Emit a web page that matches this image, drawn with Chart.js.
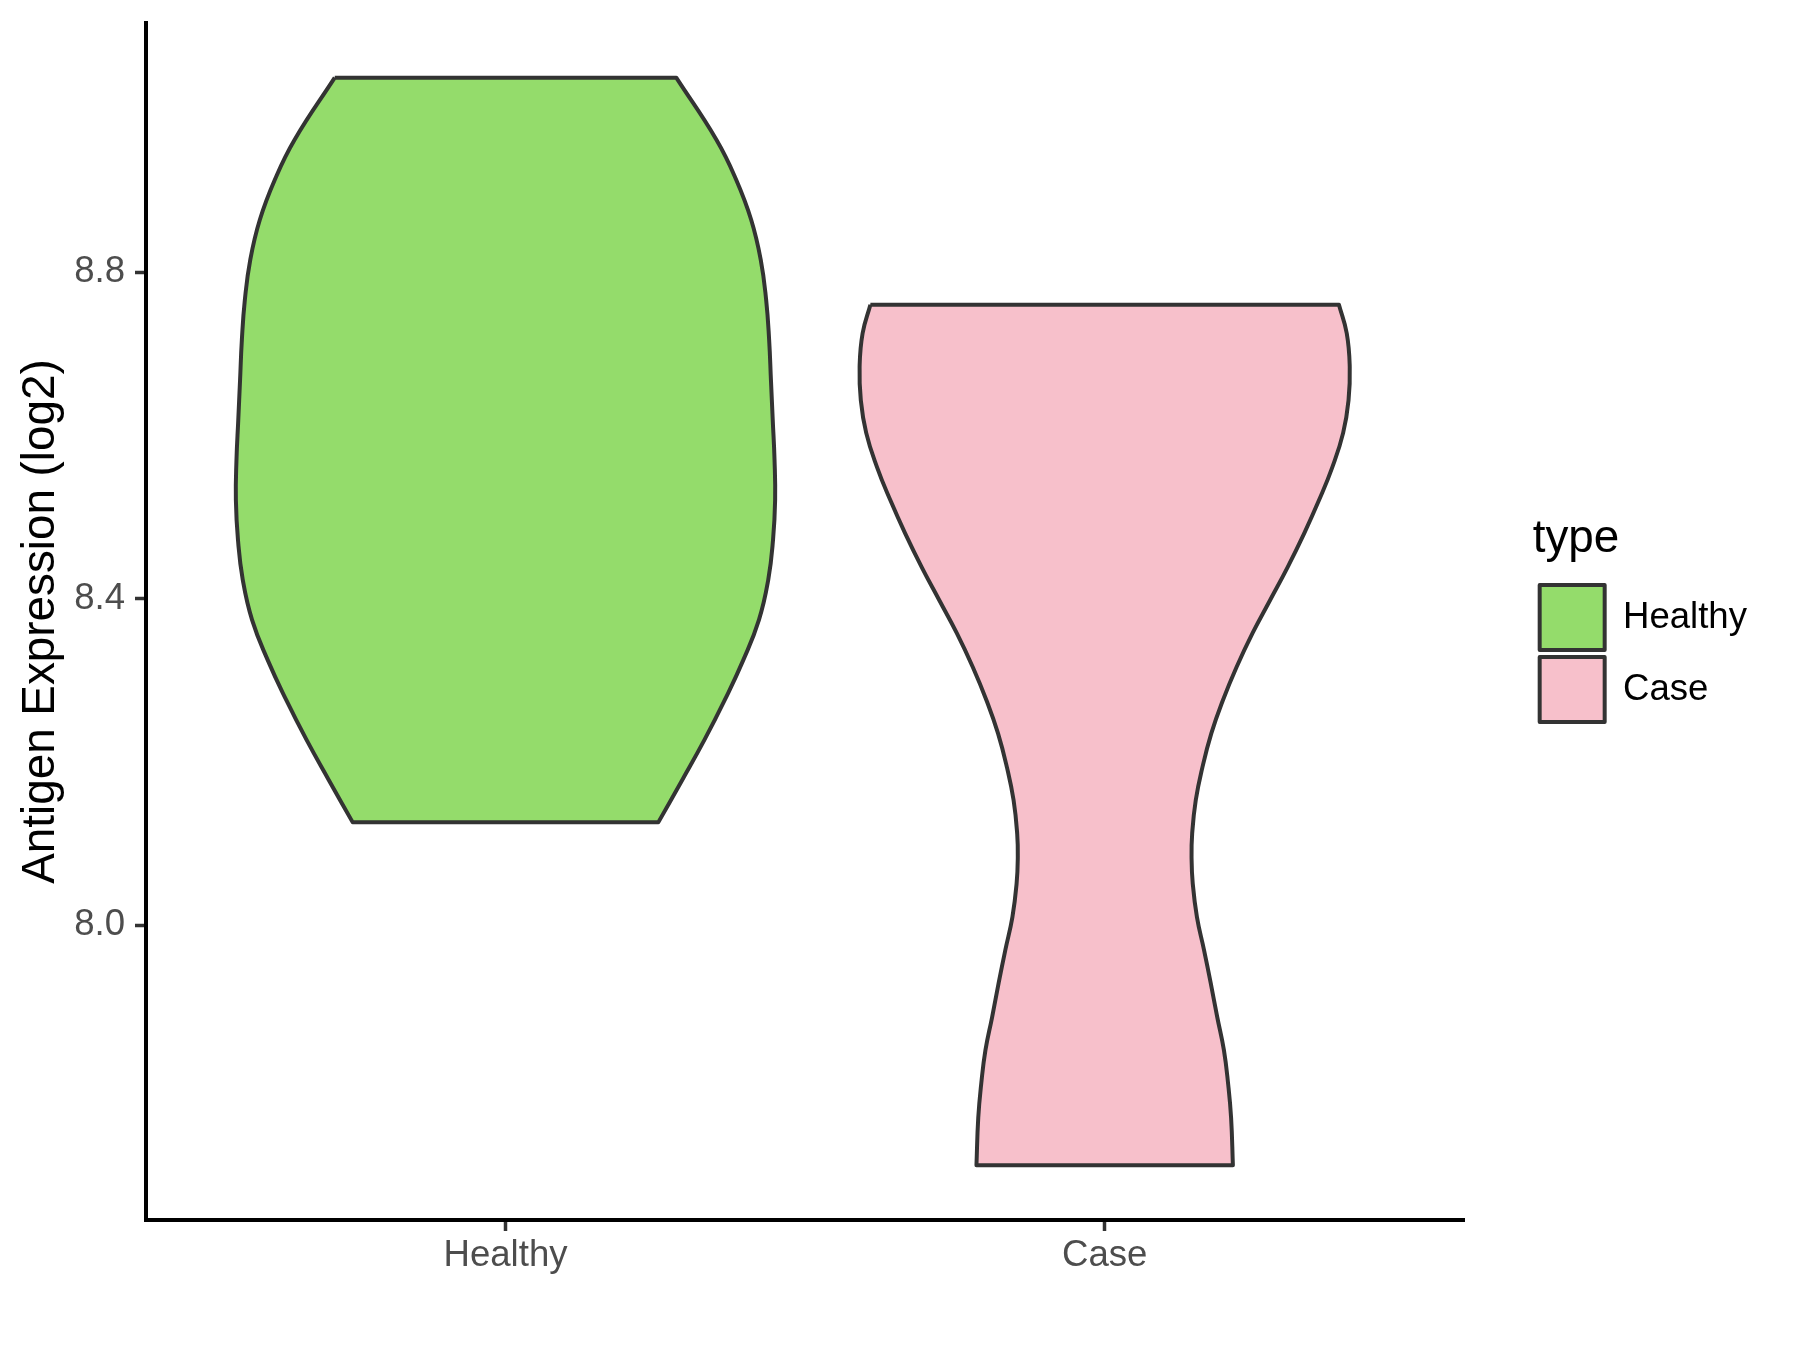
<!DOCTYPE html>
<html lang="en">
<head>
  <meta charset="UTF-8">
  <title>Antigen Expression (log2)</title>
  <script src="https://cdn.jsdelivr.net/npm/chart.js"></script>
  <style>
    body {
      margin: 0;
      background-color: #ffffff;
    }

    #wrap {
      width: 1800px;
      height: 1350px;
    }
  </style>
</head>
<body>
  <div id="wrap"><canvas id="violinChart" width="1800" height="1350"></canvas></div>

  <script>
    const categories = ['Healthy', 'Case'];
    const categoryPositions = [1, 2];
    const fillColors = ['#94DC6B', '#F7C0CB'];

    // density outline: y level and half width (in category units)
    const healthyY = [9.038, 8.962, 8.913, 8.864, 8.815, 8.766, 8.717, 8.668, 8.619, 8.570, 8.521, 8.472, 8.423, 8.374, 8.325, 8.276, 8.227, 8.178, 8.126];
    const healthyHalfWidth = [0.285, 0.352, 0.385, 0.410, 0.426, 0.435, 0.440, 0.443, 0.446, 0.449, 0.450, 0.4465, 0.4385, 0.423, 0.397, 0.366, 0.332, 0.295, 0.255];

    const caseY = [8.760, 8.725, 8.684, 8.643, 8.603, 8.561, 8.521, 8.480, 8.438, 8.398, 8.358, 8.316, 8.275, 8.235, 8.193, 8.153, 8.112, 8.083, 8.051, 8.010, 7.969, 7.929, 7.887, 7.847, 7.806, 7.764, 7.706];
    const caseHalfWidth = [0.391, 0.404, 0.409, 0.407, 0.398, 0.380, 0.358, 0.333, 0.305, 0.276, 0.247, 0.220, 0.197, 0.178, 0.163, 0.152, 0.146, 0.145, 0.147, 0.154, 0.166, 0.177, 0.188, 0.199, 0.206, 0.211, 0.214];

    const yTicks = [8.0, 8.4, 8.8];
    const yRange = [7.639, 9.105];
    const xRange = [0.4, 2.6];

    Chart.defaults.font.family = "'Liberation Sans', Arial, sans-serif";

    // closed outline: down the left side, across the bottom, up the right side, back across the top
    function outline(center, ys, halfWidths) {
      const left = ys.map((y, i) => ({ x: center - halfWidths[i], y: y }));
      const right = ys.map((y, i) => ({ x: center + halfWidths[i], y: y })).reverse();
      const last = left.length - 1;
      return [...left, left[last], right[0], ...right, right[right.length - 1], left[0]];
    }

    const violins = [
      outline(categoryPositions[0], healthyY, healthyHalfWidth),
      outline(categoryPositions[1], caseY, caseHalfWidth)
    ];

    const datasets = categories.map((name, i) => ({
      label: name,
      data: violins[i],
      backgroundColor: fillColors[i],
      borderColor: '#333333',
      borderWidth: 4,
      borderJoinStyle: 'round',
      fill: 'shape',
      pointRadius: 0,
      tension: 0.45,
      yAxisID: 'y'
    }));

    const ctx = document.getElementById('violinChart').getContext('2d');
    new Chart(ctx, {
      type: 'line',
      data: { datasets: datasets },
      options: {
        responsive: false,
        animation: false,
        devicePixelRatio: 1,
        layout: {
          padding: { left: 0, top: 23, right: 43, bottom: 73 }
        },
        scales: {
          x: {
            type: 'linear',
            min: xRange[0],
            max: xRange[1],
            afterBuildTicks: scale => {
              scale.ticks = categoryPositions.map(v => ({ value: v }));
            },
            ticks: {
              callback: value => categories[categoryPositions.indexOf(value)],
              color: '#4D4D4D',
              font: { size: 36.6 },
              padding: 3,
              maxRotation: 0
            },
            grid: {
              drawOnChartArea: false,
              tickLength: 11,
              tickColor: '#333333',
              tickWidth: 3.5
            },
            border: { display: true, color: '#000000', width: 4 },
            afterFit: scale => {
              scale.height = 57;
              scale.paddingLeft = 0;
              scale.paddingRight = 0;
            }
          },
          y: {
            type: 'linear',
            position: 'left',
            min: yRange[0],
            max: yRange[1],
            afterBuildTicks: scale => {
              scale.ticks = yTicks.map(v => ({ value: v }));
            },
            ticks: {
              callback: value => value.toFixed(1),
              color: '#4D4D4D',
              font: { size: 36.6 },
              padding: 10
            },
            grid: {
              drawOnChartArea: false,
              tickLength: 11,
              tickColor: '#333333',
              tickWidth: 3.5
            },
            border: { display: true, color: '#000000', width: 4 },
            title: {
              display: true,
              text: 'Antigen Expression (log2)',
              color: '#000000',
              font: { size: 45.8 },
              padding: { top: 14, bottom: 0 }
            },
            afterFit: scale => {
              scale.width = 146;
              scale.paddingTop = 0;
              scale.paddingBottom = 0;
            }
          },
          // empty right-hand axis only keeps the legend away from the panel
          yRight: {
            type: 'linear',
            position: 'right',
            grid: { display: false },
            border: { display: false },
            ticks: { display: false },
            afterFit: scale => {
              scale.width = 68.5;
              scale.paddingTop = 0;
              scale.paddingBottom = 0;
            }
          }
        },
        plugins: {
          tooltip: { enabled: false },
          legend: {
            position: 'right',
            align: 'start',
            title: {
              display: true,
              text: 'type',
              color: '#000000',
              position: 'start',
              font: { size: 45.8 },
              padding: { top: 493, bottom: 7 }
            },
            labels: {
              boxWidth: 65,
              boxHeight: 65,
              padding: 7,
              color: '#000000',
              font: { size: 36.6 }
            }
          }
        }
      }
    });
  </script>
</body>
</html>
